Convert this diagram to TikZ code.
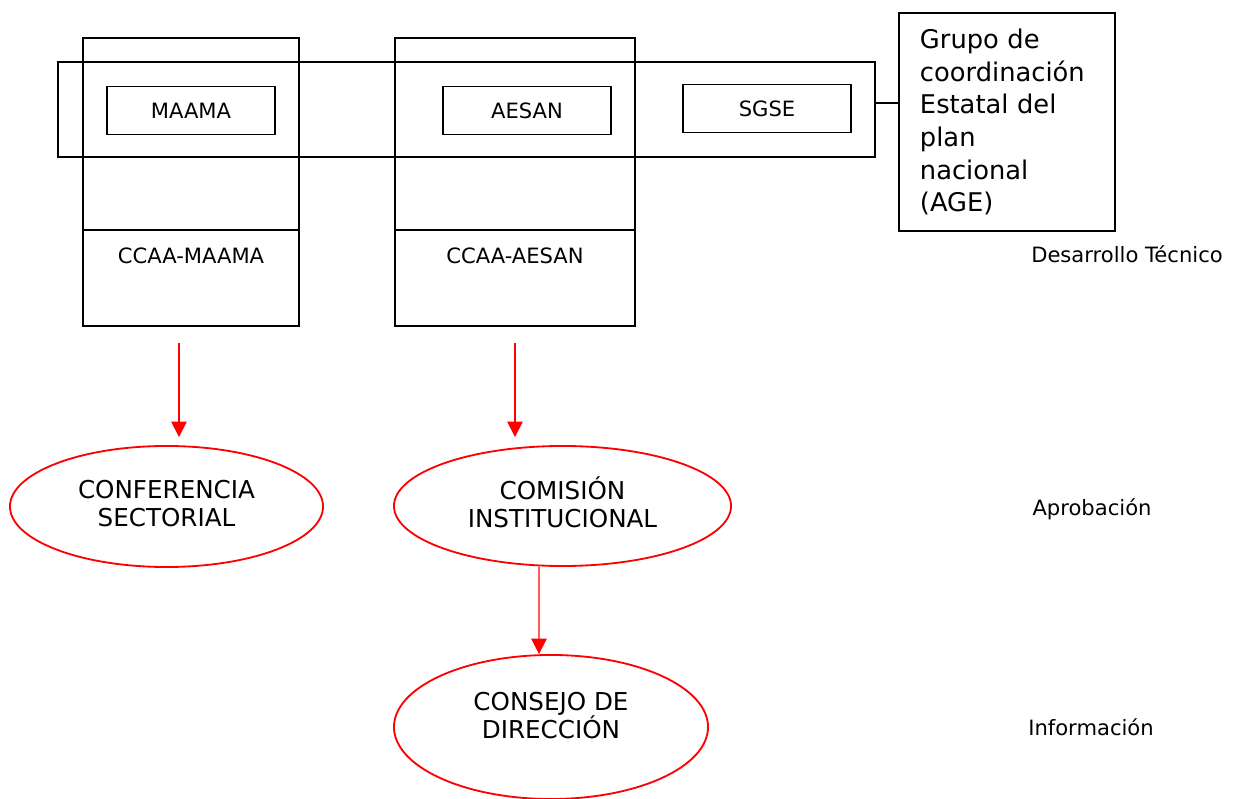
\documentclass[tikz,border=0pt]{standalone}
\usepackage{fontspec}
\setmainfont{DejaVu Sans}
\usetikzlibrary{arrows.meta,shapes.geometric}

\begin{document}
\begin{tikzpicture}[x=0.025cm, y=-0.025cm,
    caja/.style={draw, line width=1pt, inner sep=0pt},
    etiqueta/.style={font=\fontsize{15}{18}\selectfont},
    elipse/.style={draw=red, line width=1.3pt, ellipse, inner sep=0pt, align=center,
                   font=\fontsize{17.5}{20}\selectfont},
    flecha/.style={red, line width=1pt, -{Triangle[width=11pt, length=11pt]}}]

    \useasboundingbox (0,0) rectangle (1243,799);

    \node[caja, minimum width=5.4cm, minimum height=7.2cm] (colM) at (191,182) {};
    \node[caja, minimum width=6cm, minimum height=7.2cm] (colA) at (515,182) {};
        \draw[line width=1pt] (colM.west |- 0,230) to (colM.east |- 0,230);
        \draw[line width=1pt] (colA.west |- 0,230) to (colA.east |- 0,230);
        \node[etiqueta] (ccaaM) at (191,256) {CCAA-MAAMA};
        \node[etiqueta] (ccaaA) at (515,256) {CCAA-AESAN};

    \node[caja, minimum width=20.425cm, minimum height=2.375cm] (banda) at (466.5,109.5) {};
        \node[caja, etiqueta, minimum width=4.2cm, minimum height=1.2cm] (maama) at (191,110.5) {MAAMA};
        \node[caja, etiqueta, minimum width=4.2cm, minimum height=1.2cm] (aesan) at (527,110.5) {AESAN};
        \node[caja, etiqueta, minimum width=4.2cm, minimum height=1.2cm] (sgse) at (767,108.5) {SGSE};

    \node[caja, minimum width=5.4cm, minimum height=5.45cm, text width=4.35cm, align=left,
          font=\fontsize{18.3}{23.2}\selectfont] (grupo) at (1007,122)
          {Grupo de\\coordinación\\Estatal del\\plan\\nacional\\(AGE)};
        \draw[line width=1pt] ([yshift=0.16cm]banda.east) to ([yshift=0.16cm]banda.east -| grupo.west);

    \node[etiqueta] (desarrollo) at (1127,254) {Desarrollo Técnico};
    \node[etiqueta] (aprobacion) at (1092,509) {Aprobación};
    \node[etiqueta] (informacion) at (1091,727) {Información};

    \node[elipse, text depth=5pt, minimum width=7.825cm, minimum height=3.025cm] (conferencia) at (166.5,506.5) {CONFERENCIA\\SECTORIAL};
    \node[elipse, text depth=5pt, minimum width=8.425cm, minimum height=3cm] (comision) at (562.5,506) {COMISIÓN\\INSTITUCIONAL};
    \node[elipse, text depth=17pt, minimum width=7.85cm, minimum height=3.6cm] (consejo) at (551,727) {CONSEJO DE\\DIRECCIÓN};

    \coordinate (salidaM) at (179,343);
    \coordinate (salidaA) at (515,343);
        \draw[flecha, shorten >=0.2cm] (salidaM) to (salidaM |- conferencia.north);
        \draw[flecha, shorten >=0.2cm] (salidaA) to (salidaA |- comision.north);
        \draw[flecha] ([xshift=-0.5875cm]comision.south) to ([xshift=-0.3cm]consejo.north);

\end{tikzpicture}
\end{document}
